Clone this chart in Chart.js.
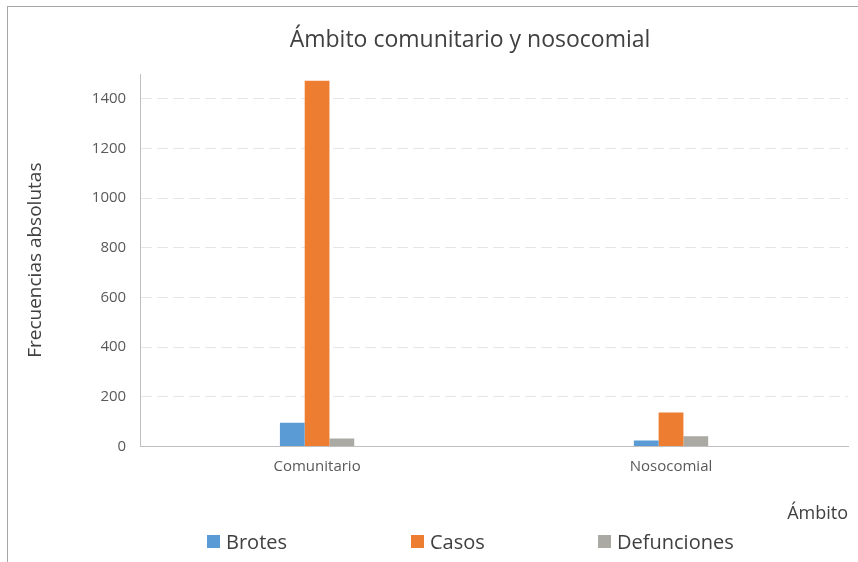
<!DOCTYPE html>
<html lang="es">
<head>
<meta charset="utf-8">
<title>Ámbito comunitario y nosocomial</title>
<script src="https://cdn.jsdelivr.net/npm/chart.js@4.4.1/dist/chart.umd.min.js"></script>
<style>
    html, body { margin: 0; padding: 0; background: #fff; }
    body { width: 858px; height: 562px; position: relative; overflow: hidden; font-family: "Open Sans", sans-serif; }
    #marco { position: absolute; left: 7px; top: 6px; right: -10px; bottom: -10px; border-left: 1px solid #a6a6a6; border-top: 1px solid #a6a6a6; }
    #grafico { position: absolute; left: 0; top: 0; }
    #titulo { position: absolute; left: 270px; width: 400px; top: 22px; text-align: center; font-size: 23px; color: #404040; white-space: nowrap; }
    #leyenda { position: absolute; left: 0; top: 528px; width: 858px; height: 28px; }
    .item { position: absolute; top: 0; display: flex; align-items: center; font-size: 20px; color: #404040; }
    .caja { width: 13px; height: 13px; margin-right: 6px; }
</style>
</head>
<body>
<div id="marco"></div>
<canvas id="grafico" width="858" height="562"></canvas>
<div id="titulo">Ámbito comunitario y nosocomial</div>
<div id="leyenda"></div>

<script>
// Datos
const ambitos = ['Comunitario', 'Nosocomial'];
const series = ['Brotes', 'Casos', 'Defunciones'];
const brotes = [95, 24];
const casos = [1473, 137];
const defunciones = [32, 41];
const colores = ['#5b9bd5', '#ed7d31', '#aaa9a3'];
const ticksY = [0, 200, 400, 600, 800, 1000, 1200, 1400];

const valores = [brotes, casos, defunciones];
const posLeyenda = [207, 411, 598];

const datasets = series.map((nombre, i) => ({
    label: nombre,
    data: valores[i],
    backgroundColor: colores[i],
    borderWidth: 0,
    barPercentage: 1,
    categoryPercentage: 0.21
}));

const textoGris = '#595959';

new Chart(document.getElementById('grafico').getContext('2d'), {
    type: 'bar',
    data: { labels: ambitos, datasets: datasets },
    options: {
        responsive: false,
        animation: false,
        layout: { padding: { left: 24, right: 10, top: 74, bottom: 37 } },
        plugins: {
            legend: { display: false },
            tooltip: { enabled: false },
            title: { display: false }
        },
        scales: {
            x: {
                grid: { display: false, drawTicks: false },
                border: { display: true, color: '#bfbfbf', width: 1 },
                ticks: { color: textoGris, font: { family: 'Open Sans', size: 15 }, padding: 11 },
                title: {
                    display: true,
                    text: 'Ámbito',
                    align: 'end',
                    color: '#404040',
                    font: { family: 'Open Sans', size: 18 },
                    padding: { top: 17, bottom: 0 }
                }
            },
            y: {
                min: 0,
                max: 1500,
                afterBuildTicks: (escala) => {
                    escala.ticks = ticksY.map(v => ({ value: v }));
                },
                grid: { color: '#e6e6e6', drawTicks: false },
                border: { display: true, color: '#bfbfbf', width: 1, dash: [11, 5] },
                ticks: {
                    color: textoGris,
                    font: { family: 'Open Sans', size: 15 },
                    padding: 14,
                    callback: (v) => String(v)
                },
                title: {
                    display: true,
                    text: 'Frecuencias absolutas',
                    color: '#404040',
                    font: { family: 'Open Sans', size: 19 },
                    padding: { top: 0, bottom: 31 }
                }
            }
        }
    }
});

// Leyenda propia, repartida a lo ancho
const leyenda = document.getElementById('leyenda');
series.forEach((nombre, i) => {
    const item = document.createElement('div');
    item.className = 'item';
    item.style.left = posLeyenda[i] + 'px';
    item.innerHTML = '<span class="caja" style="background:' + colores[i] + '"></span>' + nombre;
    leyenda.appendChild(item);
});
</script>
</body>
</html>
